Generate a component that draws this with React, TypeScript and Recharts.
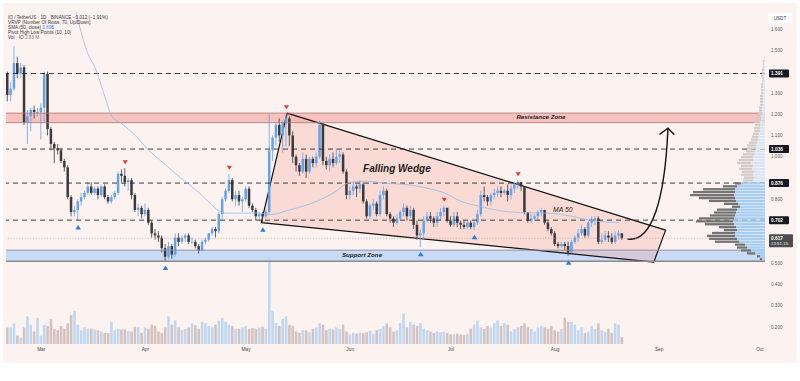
import React from 'react';
import {
  ComposedChart,
  BarChart,
  Bar,
  Line,
  XAxis,
  YAxis,
  ReferenceLine,
  ReferenceArea,
  ReferenceDot,
  Cell,
} from 'recharts';

// ---- data ----
const firstOpen = 1.39;

const closes = [
  1.29, 1.32, 1.44, 1.39, 1.42, 1.16, 1.19, 1.22, 1.21, 1.21,
  1.23, 1.39, 1.13, 1.06, 1.04, 1.03, 0.98, 0.95, 0.81, 0.74,
  0.75, 0.79, 0.81, 0.83, 0.86, 0.83, 0.85, 0.82, 0.86, 0.81,
  0.79, 0.81, 0.83, 0.92, 0.91, 0.88, 0.89, 0.82, 0.75, 0.76,
  0.73, 0.75, 0.69, 0.64, 0.63, 0.62, 0.57, 0.53, 0.58, 0.54,
  0.62, 0.6, 0.62, 0.63, 0.6, 0.6, 0.58, 0.56, 0.6, 0.61,
  0.64, 0.66, 0.65, 0.73, 0.8, 0.84, 0.89, 0.8, 0.82, 0.79,
  0.8, 0.85, 0.77, 0.75, 0.72, 0.73, 0.72, 0.74, 1.03, 1.09,
  1.15, 1.1, 1.16, 1.18, 1.1, 1.0, 0.96, 0.93, 0.99, 0.93,
  0.99, 0.97, 1.0, 1.15, 0.98, 0.96, 0.99, 0.97, 1.0, 1.01,
  0.93, 0.82, 0.84, 0.86, 0.85, 0.87, 0.79, 0.72, 0.77, 0.78,
  0.73, 0.82, 0.84, 0.73, 0.71, 0.69, 0.71, 0.74, 0.76, 0.72,
  0.75, 0.68, 0.63, 0.64, 0.7, 0.72, 0.71, 0.69, 0.72, 0.74,
  0.76, 0.7, 0.68, 0.72, 0.69, 0.68, 0.67, 0.69, 0.67, 0.69,
  0.73, 0.82, 0.81, 0.79, 0.82, 0.83, 0.84, 0.83, 0.84, 0.82,
  0.85, 0.87, 0.88, 0.86, 0.74, 0.7, 0.71, 0.72, 0.74, 0.75,
  0.69, 0.66, 0.64, 0.59, 0.58, 0.59, 0.58, 0.55, 0.6, 0.62,
  0.64, 0.66, 0.63, 0.69, 0.7, 0.71, 0.6, 0.61, 0.63, 0.62,
  0.6, 0.63, 0.64, 0.617,
];

const highs = [
  1.4, 1.35, 1.52, 1.47, 1.44, 1.43, 1.22, 1.23, 1.24, 1.23,
  1.25, 1.4, 1.4, 1.14, 1.07, 1.06, 1.04, 0.99, 0.96, 0.82,
  0.77, 0.8, 0.83, 0.84, 0.88, 0.88, 0.86, 0.86, 0.87, 0.87,
  0.82, 0.82, 0.84, 0.93, 0.94, 0.946, 0.9, 0.9, 0.83, 0.78,
  0.77, 0.78, 0.76, 0.7, 0.66, 0.65, 0.63, 0.59, 0.6, 0.59,
  0.64, 0.64, 0.63, 0.64, 0.64, 0.62, 0.61, 0.59, 0.61, 0.62,
  0.64, 0.67, 0.67, 0.74, 0.81, 0.85, 0.92, 0.9, 0.84, 0.84,
  0.81, 0.86, 0.86, 0.78, 0.76, 0.74, 0.74, 0.75, 1.2, 1.1,
  1.16, 1.18, 1.17, 1.204, 1.19, 1.12, 1.01, 0.97, 1.02, 1.01,
  1.0, 1.0, 1.02, 1.17, 1.16, 1.0, 1.01, 1.02, 1.04, 1.03,
  1.02, 0.94, 0.86, 0.88, 0.87, 0.89, 0.88, 0.8, 0.78, 0.8,
  0.79, 0.84, 0.86, 0.85, 0.74, 0.72, 0.73, 0.75, 0.78, 0.77,
  0.77, 0.76, 0.7, 0.66, 0.72, 0.74, 0.74, 0.72, 0.74, 0.76,
  0.77, 0.76, 0.72, 0.74, 0.74, 0.7, 0.7, 0.7, 0.7, 0.7,
  0.75, 0.84, 0.86, 0.82, 0.83, 0.85, 0.86, 0.86, 0.85, 0.87,
  0.87, 0.88, 0.89, 0.88, 0.86, 0.74, 0.73, 0.73, 0.75, 0.76,
  0.75, 0.7, 0.67, 0.65, 0.6, 0.6, 0.6, 0.6, 0.61, 0.63,
  0.66, 0.68, 0.67, 0.7, 0.72, 0.72, 0.72, 0.64, 0.65, 0.65,
  0.64, 0.65, 0.655, 0.64,
];

const lows = [
  1.26, 1.26, 1.31, 1.37, 1.37, 1.15, 1.06, 1.12, 1.18, 1.19,
  1.08, 1.16, 1.1, 1.03, 0.97, 1.01, 0.97, 0.93, 0.8, 0.72,
  0.72, 0.7, 0.77, 0.8, 0.82, 0.82, 0.82, 0.8, 0.81, 0.8,
  0.78, 0.78, 0.8, 0.82, 0.88, 0.86, 0.84, 0.8, 0.74, 0.72,
  0.71, 0.72, 0.68, 0.62, 0.61, 0.6, 0.55, 0.51, 0.52, 0.52,
  0.53, 0.58, 0.59, 0.6, 0.59, 0.59, 0.57, 0.545, 0.555, 0.59,
  0.6, 0.63, 0.62, 0.64, 0.7, 0.79, 0.83, 0.79, 0.77, 0.77,
  0.74, 0.79, 0.76, 0.74, 0.7, 0.7, 0.69, 0.71, 0.73, 0.98,
  1.05, 1.07, 1.02, 1.05, 1.05, 0.97, 0.93, 0.91, 0.92, 0.9,
  0.92, 0.95, 0.95, 0.99, 0.96, 0.94, 0.93, 0.95, 0.96, 0.97,
  0.92, 0.8, 0.8, 0.82, 0.81, 0.83, 0.78, 0.71, 0.71, 0.75,
  0.72, 0.72, 0.8, 0.72, 0.69, 0.67, 0.68, 0.7, 0.72, 0.7,
  0.71, 0.66, 0.61, 0.575, 0.61, 0.69, 0.69, 0.67, 0.67, 0.7,
  0.72, 0.69, 0.67, 0.67, 0.67, 0.66, 0.66, 0.66, 0.66, 0.655,
  0.68, 0.72, 0.79, 0.77, 0.77, 0.8, 0.81, 0.81, 0.82, 0.79,
  0.8, 0.83, 0.85, 0.84, 0.73, 0.69, 0.69, 0.7, 0.7, 0.72,
  0.68, 0.65, 0.63, 0.58, 0.57, 0.57, 0.56, 0.535, 0.545, 0.59,
  0.6, 0.63, 0.62, 0.62, 0.67, 0.68, 0.59, 0.59, 0.6, 0.6,
  0.59, 0.59, 0.61, 0.61,
];

// daily volume, millions of IO
const volumes = [
  24, 24, 30, 12, 9, 24, 40, 28, 18, 38,
  12, 28, 26, 36, 22, 20, 26, 22, 30, 42,
  48, 28, 20, 24, 22, 22, 21, 20, 18, 16,
  16, 32, 20, 22, 21, 21, 19, 18, 25, 24,
  16, 24, 22, 28, 26, 18, 16, 24, 40, 28,
  34, 24, 20, 22, 24, 30, 27, 22, 32, 30,
  26, 24, 28, 34, 38, 32, 28, 26, 22, 22,
  24, 26, 22, 23, 22, 24, 25, 22, 128, 48,
  30, 26, 36, 40, 28, 26, 18, 16, 20, 20,
  17, 22, 24, 30, 28, 20, 22, 21, 24, 22,
  28, 18, 14, 16, 15, 16, 16, 17, 19, 15,
  20, 22, 26, 30, 24, 18, 20, 30, 44, 24,
  32, 28, 26, 30, 22, 20, 18, 16, 18, 17,
  18, 16, 14, 14, 15, 14, 13, 14, 22, 28,
  34, 24, 22, 26, 24, 30, 34, 26, 30, 28,
  18, 22, 24, 26, 30, 24, 22, 18, 24, 26,
  24, 22, 26, 20, 18, 22, 38, 32, 32, 28,
  20, 24, 16, 18, 26, 22, 30, 20, 18, 22,
  16, 30, 28, 10,
];

// SMA 50 (day index -> value)
const smaIdx = [20, 24, 26, 29, 31, 34, 38, 42, 46, 50, 54, 57, 60, 63, 65, 70, 75, 78, 85, 92, 97, 102, 107, 112, 118, 125, 130, 135, 141, 147, 154, 161, 168, 174, 182];
const smaVal = [1.7, 1.48, 1.42, 1.28, 1.19, 1.155, 1.1, 1.03, 0.975, 0.92, 0.87, 0.83, 0.785, 0.745, 0.735, 0.735, 0.735, 0.728, 0.755, 0.79, 0.83, 0.88, 0.885, 0.876, 0.87, 0.852, 0.83, 0.79, 0.765, 0.745, 0.737, 0.735, 0.72, 0.7, 0.69];

const pivotHighIdx = [35, 66, 83, 130, 152];
const pivotLowIdx = [21, 47, 76, 123, 139, 167];

const monthTicks = [10, 41, 71, 102, 132, 163, 194, 224];
const monthNames = ['Mar', 'Apr', 'May', 'Jun', 'Jul', 'Aug', 'Sep', 'Oct'];
const priceTicks = [0.2, 0.3, 0.4, 0.5, 0.8, 1.0, 1.1, 1.2, 1.3, 1.5, 1.6];

const keyLevels = [1.391, 1.036, 0.876, 0.702];
const lastPrice = 0.617;
const lastTime = '13:51:15';
const resistanceZone = [1.16, 1.205];
const supportZone = [0.509, 0.561];

// falling wedge corners (day index, price)
const wedgeIdx = [75.5, 83.2, 195.9, 192.4];
const wedgePrice = [0.69, 1.205, 0.655, 0.505];
// projection arrow: bezier start, control 1, control 2, tip, then head wings
const arrowIdx = [184.7, 191.8, 195.7, 196.6, 194.2, 198.4];
const arrowPrice = [0.613, 0.599, 0.796, 1.134, 1.106, 1.106];

// volume profile (70 rows), up / down volume per row
const profileLow = 0.5169;
const profileStep = 0.0137;
const profileUp = [
  3, 5, 10, 14, 18, 20, 26, 28, 30, 30, 28, 29, 31, 32, 31, 30, 29, 28, 25, 27,
  29, 30, 31, 30, 30, 28, 24, 12, 11, 12, 11, 13, 12, 14, 12, 12, 11, 10, 9, 9,
  8, 7, 7, 6, 5, 5, 5, 5, 4, 4, 3, 3, 3, 2, 2, 2, 2, 2, 2, 2,
  2, 2, 1, 2, 1, 1, 1, 1, 1, 1,
];
const profileDown = [
  2, 3, 8, 10, 10, 10, 24, 28, 28, 23, 13, 17, 29, 37, 35, 25, 22, 20, 8, 14,
  27, 36, 44, 42, 32, 14, 6, 10, 10, 12, 12, 13, 12, 14, 14, 12, 11, 9, 9, 9,
  8, 7, 6, 6, 6, 6, 5, 6, 5, 4, 4, 3, 3, 3, 3, 3, 3, 2, 2, 2,
  2, 1, 2, 2, 2, 2, 1, 1, 1, 0,
];
const valueAreaRows = 27;

// ---- styling ----
const FONT = '"Liberation Sans", Arial, sans-serif';
const W = 800;
const H = 381;
const PRICE_DOMAIN: [number, number] = [0.12, 1.68];
const X_DOMAIN: [number, number] = [-0.5, 225.5];
const PANEL_BG = '#fcf3f1';
const UP = '#64a2ec';
const DOWN = '#3a3a3a';
const VOL_UP = '#bfd7f1';
const VOL_DOWN = '#d5c2be';

const rows = closes.map((c, i) => {
  const open = i === 0 ? firstOpen : closes[i - 1];
  return {
    i,
    open,
    close: c,
    high: highs[i],
    low: lows[i],
    range: [lows[i], highs[i]],
    vol: volumes[i],
    sma: undefined as number | undefined,
  };
});
smaIdx.forEach((idx, k) => {
  rows[idx].sma = smaVal[k];
});

const profileRows = profileUp.map((u, k) => ({
  level: profileLow + k * profileStep,
  up: u,
  down: profileDown[k],
  va: k < valueAreaRows,
}));

const CandleShape = (props: any) => {
  const { x, y, width, height, payload } = props;
  if (!payload || !height) return null;
  const { open, close, high, low } = payload;
  const top = Math.min(y, y + height);
  const h = Math.abs(height);
  const k = h / (high - low);
  const clamp = (v: number) => Math.max(top, Math.min(top + h, v));
  const yo = clamp(top + (high - open) * k);
  const yc = clamp(top + (high - close) * k);
  const col = close >= open ? UP : DOWN;
  const cx = x + width / 2;
  return (
    <g>
      <line x1={cx} x2={cx} y1={top} y2={top + h} stroke={col} strokeWidth={0.8} />
      <rect
        x={x}
        y={Math.min(yo, yc)}
        width={width}
        height={Math.max(Math.abs(yc - yo), 0.8)}
        fill={col}
      />
    </g>
  );
};

// maps (index, price) into the rect that ReferenceArea got from the scales
const mapper = (p: any, x1: number, x2: number, y1: number, y2: number) => (i: number, v: number) =>
  [p.x + ((i - x1) / (x2 - x1)) * p.width, p.y + ((y2 - v) / (y2 - y1)) * p.height];

const WX1 = Math.min(...wedgeIdx);
const WX2 = Math.max(...wedgeIdx);
const WY1 = Math.min(...wedgePrice);
const WY2 = Math.max(...wedgePrice);

const WedgeShape = (p: any) => {
  const m = mapper(p, WX1, WX2, WY1, WY2);
  const pts = wedgeIdx.map((i, k) => m(i, wedgePrice[k]).join(',')).join(' ');
  return (
    <polygon points={pts} fill="#f2a79c" fillOpacity={0.33} stroke="#111" strokeWidth={1.2} strokeLinejoin="round" />
  );
};

const AX1 = Math.min(...arrowIdx);
const AX2 = Math.max(...arrowIdx);
const AY1 = Math.min(...arrowPrice);
const AY2 = Math.max(...arrowPrice);

const ArrowShape = (p: any) => {
  const m = mapper(p, AX1, AX2, AY1, AY2);
  const q = arrowIdx.map((i, k) => m(i, arrowPrice[k]));
  const d = `M${q[0][0]},${q[0][1]} C${q[1][0]},${q[1][1]} ${q[2][0]},${q[2][1]} ${q[3][0]},${q[3][1]}`;
  const head = `M${q[4][0]},${q[4][1]} L${q[3][0]},${q[3][1]} L${q[5][0]},${q[5][1]}`;
  return (
    <g fill="none" stroke="#111" strokeWidth={1.4} strokeLinecap="round" strokeLinejoin="round">
      <path d={d} />
      <path d={head} />
    </g>
  );
};

const PriceTag = (props: any) => {
  const { viewBox, text, sub, bg } = props;
  if (!viewBox) return null;
  const x = viewBox.x + viewBox.width + 4;
  const y = viewBox.y;
  const h = sub ? 13 : 8;
  const top = y - 4;
  return (
    <g fontFamily={FONT}>
      <rect x={x} y={top} width={sub ? 24 : 20} height={h} rx={1} fill={bg} />
      <text x={x + 2} y={y + 1.7} fontSize={4.8} fontWeight={700} fill="#fff">
        {text}
      </text>
      {sub && (
        <text x={x + 2} y={y + 6.6} fontSize={4.4} fill="#eee">
          {sub}
        </text>
      )}
    </g>
  );
};

const textShape = (label: string, size: number, weight: number) => (p: any) => (
  <text
    x={p.cx}
    y={p.cy}
    textAnchor="middle"
    dominantBaseline="middle"
    fontFamily={FONT}
    fontStyle="italic"
    fontWeight={weight}
    fontSize={size}
    fill="#1d1d1d"
  >
    {label}
  </text>
);

const DownTri = (p: any) => (
  <polygon
    points={`${p.cx - 2.6},${p.cy - 8} ${p.cx + 2.6},${p.cy - 8} ${p.cx},${p.cy - 4}`}
    fill="#e0393a"
  />
);
const UpTri = (p: any) => (
  <polygon
    points={`${p.cx - 2.8},${p.cy + 9} ${p.cx + 2.8},${p.cy + 9} ${p.cx},${p.cy + 4.5}`}
    fill="#3279dd"
  />
);

function VolumeChart() {
  return (
    <ComposedChart width={W} height={H} data={rows} margin={{ top: 12, right: 35, bottom: 37, left: 6 }}>
      <XAxis dataKey="i" type="number" domain={X_DOMAIN} hide />
      <YAxis domain={[0, 480]} hide />
      <Bar dataKey="vol" barSize={2.6} isAnimationActive={false}>
        {rows.map((r) => (
          <Cell key={r.i} fill={r.close >= r.open ? VOL_UP : VOL_DOWN} />
        ))}
      </Bar>
    </ComposedChart>
  );
}

function PriceChart() {
  return (
    <ComposedChart width={W} height={H} data={rows} margin={{ top: 12, right: 0, bottom: 17, left: 6 }}>
      <XAxis
        dataKey="i"
        type="number"
        domain={X_DOMAIN}
        ticks={monthTicks}
        interval={0}
        tickFormatter={(v) => monthNames[monthTicks.indexOf(v)] ?? ''}
        axisLine={false}
        tickLine={false}
        tickSize={0}
        tickMargin={4}
        height={20}
        tick={{ fontSize: 4.8, fill: '#444', fontFamily: FONT }}
      />
      <YAxis
        orientation="right"
        width={35}
        domain={PRICE_DOMAIN}
        allowDataOverflow
        ticks={priceTicks}
        interval={0}
        tickFormatter={(v) => Number(v).toFixed(3)}
        axisLine={false}
        tickLine={false}
        tickSize={0}
        tickMargin={6}
        tick={{ fontSize: 4.6, fill: '#555', fontFamily: FONT }}
      />

      <ReferenceArea y1={resistanceZone[0]} y2={resistanceZone[1]} fill="#f6b7b5" fillOpacity={0.85} stroke="none" />
      <ReferenceLine y={resistanceZone[0]} stroke="#a47a78" strokeWidth={0.8} />
      <ReferenceLine y={resistanceZone[1]} stroke="#a47a78" strokeWidth={0.8} />
      <ReferenceArea y1={supportZone[0]} y2={supportZone[1]} fill="#c5d8f4" fillOpacity={0.95} stroke="none" />
      <ReferenceLine y={supportZone[1]} stroke="#8e90a2" strokeWidth={1} />
      <ReferenceLine y={supportZone[0]} stroke="#8a8a8e" strokeWidth={1.4} />

      <ReferenceArea x1={WX1} x2={WX2} y1={WY1} y2={WY2} shape={WedgeShape} />

      {keyLevels.map((lv) => (
        <ReferenceLine
          key={lv}
          y={lv}
          stroke="#2a2a2a"
          strokeWidth={0.9}
          strokeDasharray="5 4"
          label={<PriceTag text={lv.toFixed(3)} bg="#17191f" />}
        />
      ))}
      <ReferenceLine
        y={lastPrice}
        stroke="#c2a39c"
        strokeWidth={0.7}
        strokeDasharray="1.2 1.6"
        label={<PriceTag text={lastPrice.toFixed(3)} sub={lastTime} bg="#4d4d4f" />}
      />

      <Bar dataKey="range" barSize={2.5} shape={CandleShape} isAnimationActive={false} />
      <Line
        dataKey="sma"
        type="monotone"
        stroke="#93bde9"
        strokeWidth={0.8}
        dot={false}
        connectNulls
        isAnimationActive={false}
      />

      {pivotHighIdx.map((i) => (
        <ReferenceDot key={`h${i}`} x={i} y={highs[i]} r={0} shape={DownTri} />
      ))}
      {pivotLowIdx.map((i) => (
        <ReferenceDot key={`l${i}`} x={i} y={lows[i]} r={0} shape={UpTri} />
      ))}

      <ReferenceArea x1={AX1} x2={AX2} y1={AY1} y2={AY2} shape={ArrowShape} />

      <ReferenceDot x={115.9} y={0.941} r={0} shape={textShape('Falling Wedge', 10, 600)} />
      <ReferenceDot x={165.3} y={0.749} r={0} shape={textShape('MA 50', 6.8, 400)} />
      <ReferenceDot x={158.8} y={1.183} r={0} shape={textShape('Resistance Zone', 6.2, 700)} />
      <ReferenceDot x={105.5} y={0.535} r={0} shape={textShape('Support Zone', 6.2, 700)} />
    </ComposedChart>
  );
}

function ProfileChart() {
  return (
    <BarChart
      layout="vertical"
      width={100}
      height={H}
      data={profileRows}
      margin={{ top: 12, right: 0, bottom: 37, left: 0 }}
    >
      <XAxis type="number" domain={[0, 100]} reversed hide />
      <YAxis type="number" dataKey="level" domain={PRICE_DOMAIN} allowDataOverflow reversed hide />
      <Bar dataKey="up" stackId="vp" barSize={2.3} isAnimationActive={false}>
        {profileRows.map((r, k) => (
          <Cell key={k} fill={r.va ? '#a3cdf3' : '#d9e7f5'} />
        ))}
      </Bar>
      <Bar dataKey="down" stackId="vp" barSize={2.3} isAnimationActive={false}>
        {profileRows.map((r, k) => (
          <Cell key={k} fill={r.va ? '#737373' : '#d3cbca'} />
        ))}
      </Bar>
    </BarChart>
  );
}

const headerLines: [string, string, string][] = [
  ['IO / TetherUS · 1D · BINANCE', '  −0.012 (−1.91%)', '#333'],
  ['VRVP (Number Of Rows, 70, Up/Down)', '', '#333'],
  ['SMA (50, close)', '  0.695', '#2f7ee6'],
  ['Pivot High Low Points (10, 10)', '', '#333'],
  ['Vol · IO', '  2.83 M', '#9a6b66'],
];

export default function App() {
  return (
    <div style={{ position: 'absolute', left: 0, top: 0, width: W, height: H, background: '#fff', overflow: 'hidden' }}>
      <div style={{ position: 'absolute', left: 3, top: 3, width: 794, height: 360, background: PANEL_BG }} />
      <div style={{ position: 'absolute', left: 0, top: 0 }}>
        <VolumeChart />
      </div>
      <div style={{ position: 'absolute', left: 0, top: 0 }}>
        <PriceChart />
      </div>
      <div style={{ position: 'absolute', left: 665, top: 0 }}>
        <ProfileChart />
      </div>
      <svg width={W} height={H} style={{ position: 'absolute', left: 0, top: 0, pointerEvents: 'none' }}>
        <g fontFamily={FONT} fontSize={4.7}>
          {headerLines.map(([a, b, col], k) => (
            <text key={k} x={8} y={19 + k * 5.1} fill="#333">
              {a}
              <tspan fill={col}>{b}</tspan>
            </text>
          ))}
        </g>
        <rect x={768} y={13} width={24} height={10} fill="#fff" />
        <text x={780} y={19.6} textAnchor="middle" fontFamily={FONT} fontSize={4.6} fill="#444">
          USDT
        </text>
      </svg>
    </div>
  );
}
